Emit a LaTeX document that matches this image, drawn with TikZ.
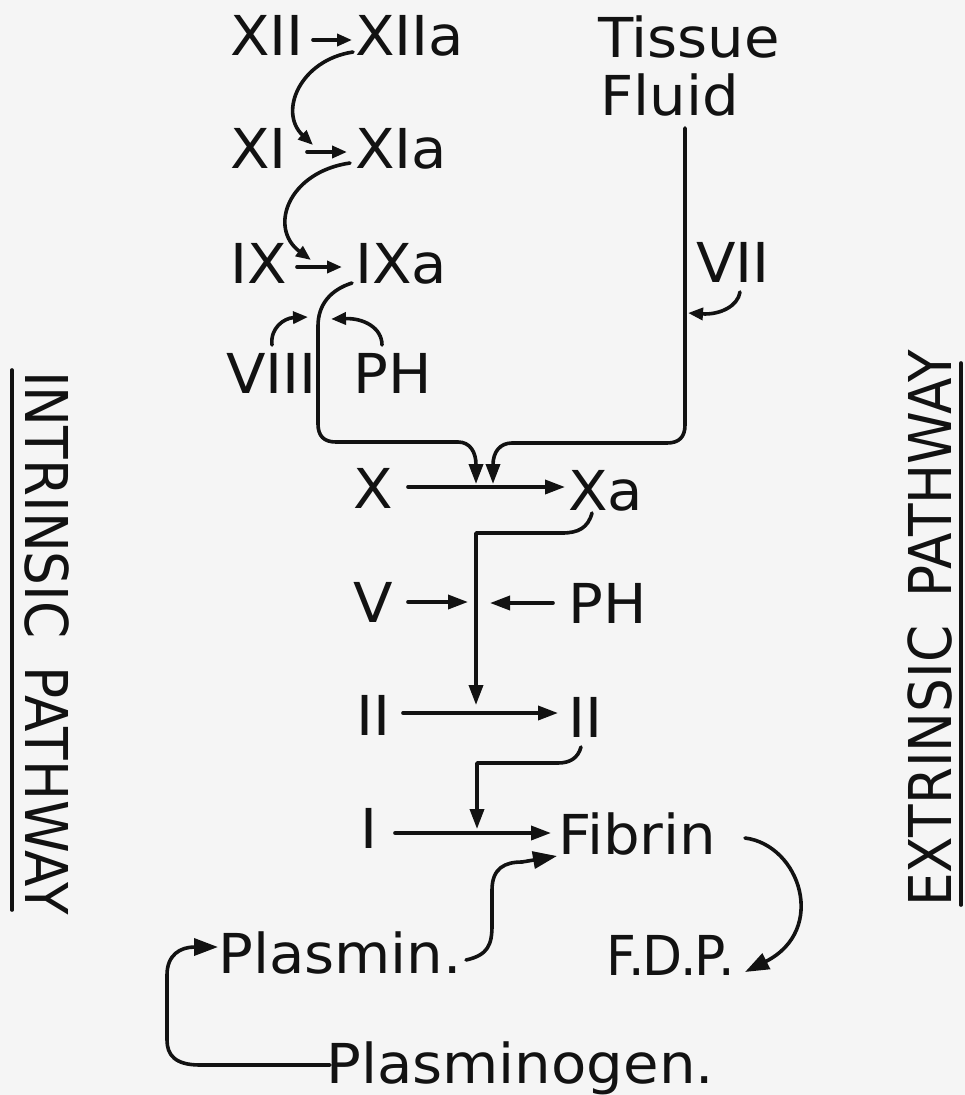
\documentclass[tikz,border=0pt]{standalone}
\usepackage{fontspec}
\setmainfont{DejaVu Sans}[FakeStretch=1.05]
\usetikzlibrary{arrows.meta}
\definecolor{paper}{gray}{0.96}
\definecolor{ink}{gray}{0.07}
\tikzset{
  lbl/.style={inner sep=0pt, anchor=base west, text=ink,
              font=\fontsize{55}{60}\selectfont},
  side/.style={inner sep=0pt, anchor=base west, text=ink, text depth=0pt,
              font=\fontsize{59}{62}\selectfont},
  wire/.style={draw=ink, line width=3.6pt, line cap=round, line join=round},
  small/.style={wire, -{Stealth[inset=0pt, length=15pt, width=12pt]}},
  arr/.style={wire, -{Stealth[inset=0pt, length=20pt, width=14pt]}},
  bigarr/.style={wire, -{Stealth[inset=0pt, length=24pt, width=17pt]}},
}
\begin{document}
\begin{tikzpicture}[x=1pt, y=-1pt]
\fill[paper] (0,0) rectangle (965,1095);
\useasboundingbox (0,0) rectangle (965,1095);

% factor labels
\node[lbl] (xii)  at (230,55)  {XII};
\node[lbl] (xiia) at (355,55)  {XIIa};
\node[lbl] (xi)   at (230,168) {XI};
\node[lbl] (xia)  at (355,168) {XIa};
\node[lbl] (ix)   at (230,283) {IX};
\node[lbl] (ixa)  at (355,283) {IXa};
\node[lbl] (tissue) at (598,57)  {Tissue};
\node[lbl] (fluid)  at (600,115) {Fluid};
\node[lbl] (vii)  at (696,282) {VII};
\node[lbl] (viii) at (226,393) {VIII};
\node[lbl] (ph1)  at (353,393) {PH};
\node[lbl] (x)    at (353,508) {X};
\node[lbl] (xa)   at (568,510) {Xa};
\node[lbl] (v)    at (353,622) {V};
\node[lbl] (ph2)  at (568,623) {PH};
\node[lbl] (iia)  at (356,735) {II};
\node[lbl] (iib)  at (568,737) {II};
\node[lbl] (i)    at (360,848) {I};
\node[lbl] (fibrin) at (558,854) {Fibrin};
\node[lbl] (plasmin) at (218,973) {Plasmin.};
\node[lbl] (fdp)  at (606,975)
  {\scalebox{0.9}[1]{F\kern-9pt.\kern-2pt D\kern-3pt.\kern-2pt P\kern-9pt.}};
\node[lbl] (plasminogen) at (326,1083) {Plasminogen.};

% pathway titles with their rules
\node[side, rotate=-90] (intr) at (25,371)
  {\scalebox{0.86}[1]{INTRINSIC\hspace{0.55em}PATHWAY}};
\node[side, rotate=90] (extr) at (951,907)
  {\scalebox{0.86}[1]{EXTRINSIC\hspace{0.55em}PATHWAY}};
\draw[wire] (12,370) -- (12,910);
\draw[wire] (961,363) -- (961,905);

% arrow end points
\coordinate (xii-o)  at (313,40);
\coordinate (xiia-i) at (352,40);
\coordinate (xiia-o) at (353,52);
\coordinate (xi-t)   at (313,145);
\coordinate (xi-o)   at (307,152);
\coordinate (xia-i)  at (347,152);
\coordinate (xia-o)  at (350,163);
\coordinate (ix-t)   at (311,260);
\coordinate (ix-o)   at (297,267);
\coordinate (ixa-i)  at (342,267);
\coordinate (ixa-o)  at (352,283);
\coordinate (join-l) at (476,484);
\coordinate (fluid-o) at (685,128);
\coordinate (join-r) at (493,484);
\coordinate (vii-o)  at (740,292);
\coordinate (vii-t)  at (688,313);
\coordinate (viii-o) at (272,345);
\coordinate (viii-t) at (308,317);
\coordinate (ph1-o)  at (382,345);
\coordinate (ph1-t)  at (331,319);
\coordinate (x-o)    at (408,487);
\coordinate (xa-i)   at (565,487);
\coordinate (xa-o)   at (592,513);
\coordinate (iia-t)  at (476,705);
\coordinate (v-o)    at (408,602);
\coordinate (v-t)    at (468,602);
\coordinate (ph2-o)  at (553,603);
\coordinate (ph2-t)  at (490,603);
\coordinate (iia-o)  at (403,713);
\coordinate (iib-i)  at (558,713);
\coordinate (iib-o)  at (581,747);
\coordinate (i-t)    at (477,829);
\coordinate (i-o)    at (395,833);
\coordinate (fib-i)  at (551,833);
\coordinate (pl-o)   at (466,960);
\coordinate (fib-t)  at (557,856);
\coordinate (fib-o)  at (745,838);
\coordinate (fdp-t)  at (745,972);
\coordinate (plg-o)  at (330,1065);
\coordinate (pl-t)   at (218,947);

% intrinsic cascade
\draw[small] (xii-o) -- (xiia-i);
\draw[small] (xiia-o) .. controls (300,60) and (278,112) .. (xi-t);
\draw[small] (xi-o) -- (xia-i);
\draw[small] (xia-o) .. controls (288,172) and (268,228) .. (ix-t);
\draw[small] (ix-o) -- (ixa-i);
\draw[arr] (ixa-o) .. controls (330,290) and (318,305) .. (318,326)
  -- (318,424) .. controls (318,436) and (324,442) .. (336,442)
  -- (458,442) .. controls (470,442) and (476,452) .. (join-l);
\draw[small] (viii-o) .. controls (270,328) and (284,318) .. (viii-t);
\draw[small] (ph1-o) .. controls (382,328) and (364,318) .. (ph1-t);

% extrinsic branch
\draw[arr] (fluid-o) -- (685,425) .. controls (685,437) and (679,443) .. (667,443)
  -- (512,443) .. controls (500,443) and (493,452) .. (join-r);
\draw[small] (vii-o) .. controls (738,306) and (720,315) .. (vii-t);

% common pathway
\draw[arr] (x-o) -- (xa-i);
\draw[arr] (xa-o) .. controls (588,528) and (578,533) .. (562,533)
  -- (476,533) -- (iia-t);
\draw[arr] (v-o) -- (v-t);
\draw[arr] (ph2-o) -- (ph2-t);
\draw[arr] (iia-o) -- (iib-i);
\draw[arr] (iib-o) .. controls (578,758) and (570,763) .. (558,763)
  -- (477,763) -- (i-t);
\draw[arr] (i-o) -- (fib-i);

% fibrinolysis
\draw[bigarr] (pl-o) .. controls (488,955) and (492,945) .. (492,925)
  -- (492,890) .. controls (492,868) and (505,862) .. (522,862) -- (fib-t);
\draw[bigarr] (fib-o) .. controls (800,845) and (828,930) .. (fdp-t);
\draw[bigarr] (plg-o) -- (200,1065) .. controls (175,1065) and (167,1055) .. (167,1040)
  -- (167,975) .. controls (167,955) and (180,947) .. (pl-t);
\end{tikzpicture}
\end{document}
